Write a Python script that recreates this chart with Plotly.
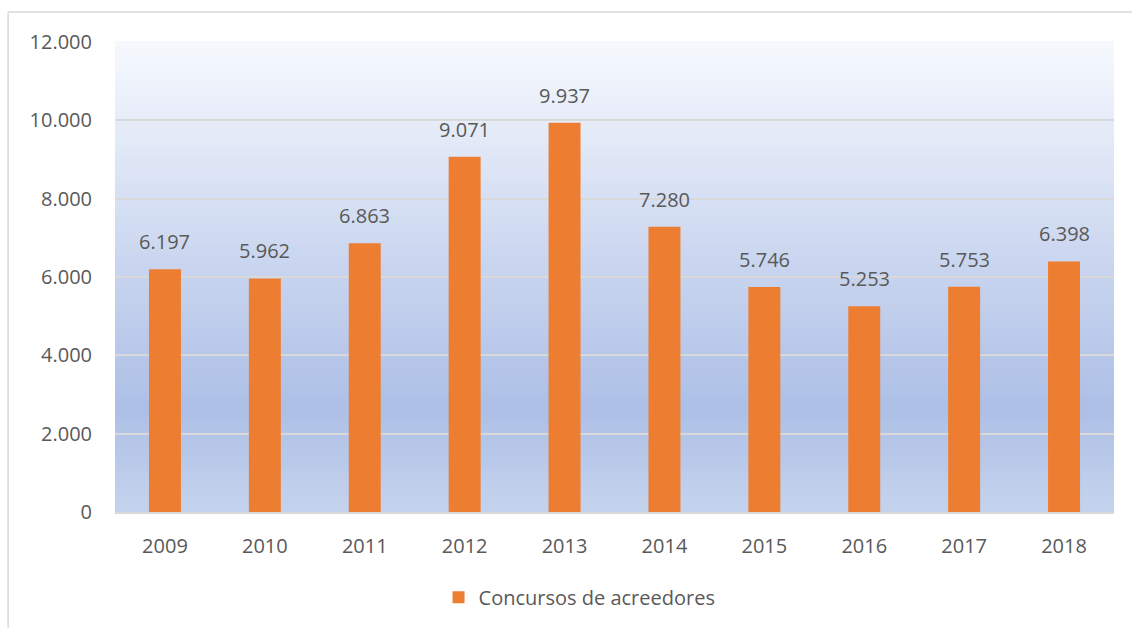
import plotly.graph_objects as go

years = ["2009", "2010", "2011", "2012", "2013", "2014", "2015", "2016", "2017", "2018"]
values = [6197, 5962, 6863, 9071, 9937, 7280, 5746, 5253, 5753, 6398]
series_name = "Concursos de acreedores"
y_ticks = [0, 2000, 4000, 6000, 8000, 10000, 12000]

FONT = "Open Sans"
TXT = "#595959"
ORANGE = "#ED7D31"

# gradient stops (position from top of plot area 0..1, color)
stops = [(0.0, (246, 249, 254)), (0.78, (173, 191, 230)), (1.0, (196, 211, 237))]


def interp(t):
    for (p0, c0), (p1, c1) in zip(stops[:-1], stops[1:]):
        if p0 <= t <= p1:
            f = (t - p0) / (p1 - p0)
            return "rgb(%d,%d,%d)" % tuple(round(a + (b - a) * f) for a, b in zip(c0, c1))
    return "rgb(%d,%d,%d)" % stops[-1][1]


shapes = []
N = 80
for i in range(N):
    t0 = i / N
    t1 = (i + 1) / N
    shapes.append(dict(type="rect", xref="x domain", yref="y domain",
                       x0=0, x1=1, y0=1 - t1, y1=1 - t0 + 0.002,
                       fillcolor=interp((t0 + t1) / 2), line=dict(width=0),
                       layer="below"))

# outer chart border (top and left)
shapes.append(dict(type="line", xref="paper", yref="paper", x0=-0.107, x1=1.1,
                   y0=1.064, y1=1.064, line=dict(color="#D9D9D9", width=1.5)))
shapes.append(dict(type="line", xref="paper", yref="paper", x0=-0.107, x1=-0.107,
                   y0=-0.3, y1=1.064, line=dict(color="#D9D9D9", width=1.5)))

fig = go.Figure(go.Bar(
    x=years, y=values, name=series_name,
    marker=dict(color=ORANGE, line=dict(width=0)),
    showlegend=True,
))

# data labels: category index positions on the category axis
annotations = [
    dict(x=i, y=v, xref="x", yref="y", text=f"{v:,}".replace(",", "."),
         showarrow=False, yanchor="bottom", yshift=12,
         font=dict(family=FONT, size=20, color=TXT))
    for i, v in enumerate(values)
]

fig.update_layout(
    width=1132, height=628,
    margin=dict(l=115, r=18, t=42, b=116),
    paper_bgcolor="white", plot_bgcolor="rgba(0,0,0,0)",
    separators=",.",
    bargap=0.68,
    font=dict(family=FONT, size=20, color=TXT),
    shapes=shapes,
    annotations=annotations,
    showlegend=True,
    legend=dict(orientation="h", x=0.465, xanchor="center",
                yref="container", y=0.049, yanchor="middle",
                font=dict(family=FONT, size=20, color=TXT),
                itemwidth=30),
    xaxis=dict(type="category", categoryorder="array", categoryarray=years,
               range=[-0.5, len(years) - 0.5],
               showgrid=False, showline=True, linecolor="#D9D9D9", linewidth=1.5,
               ticks="", ticklabelstandoff=15,
               tickfont=dict(family=FONT, size=20, color=TXT)),
    yaxis=dict(range=[0, 12000], tickvals=y_ticks, tickformat=",d",
               showgrid=True, gridcolor="#D9D9D9", gridwidth=1.5,
               zeroline=False, showline=False, ticks="",
               ticklabelstandoff=22,
               tickfont=dict(family=FONT, size=20, color=TXT)),
)

fig.write_html("out.html")
